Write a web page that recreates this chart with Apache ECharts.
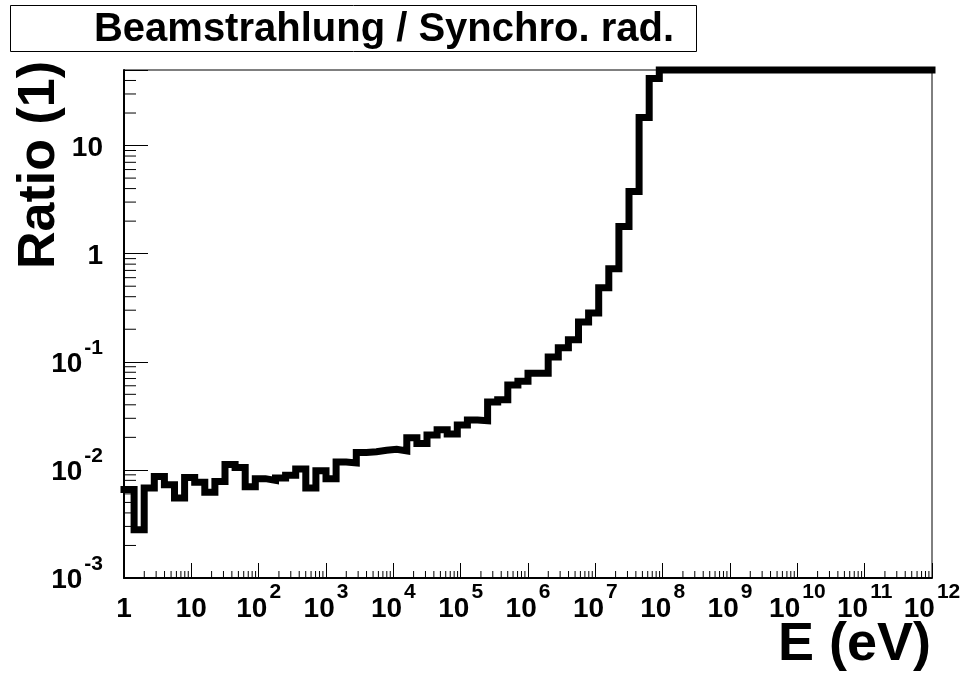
<!DOCTYPE html>
<html>
<head>
<meta charset="utf-8">
<title>Beamstrahlung / Synchro. rad.</title>
<script src="https://cdn.jsdelivr.net/npm/echarts@6/dist/echarts.min.js"></script>
<style>
    html, body { margin: 0; padding: 0; background: #fff; }
    #main { width: 967px; height: 694px; }
</style>
</head>
<body>
<div id="main"></div>
<script>
// binning of the histogram: 80 equal bins in log10(E), E from 1 to 1e12 eV
var nBins = 80;
var logEMin = 0;
var logEMax = 12;

// bin contents (ratio), left to right.
// from ~1e8 eV on the histogram sits on the frame top (50)
var ratio = [
    0.0066, 0.0028, 0.0068, 0.0087, 0.0073, 0.0055, 0.0085, 0.0077, 0.0062, 0.0078,
    0.0112, 0.0105, 0.0070, 0.0083, 0.0080, 0.0084, 0.0089, 0.0102, 0.0068, 0.0098,
    0.0083, 0.0118, 0.0116, 0.0145, 0.0147, 0.0152, 0.0155, 0.0150, 0.0198, 0.0175,
    0.0210, 0.0235, 0.0215, 0.0260, 0.0290, 0.0285, 0.0425, 0.0445, 0.0610, 0.0660,
    0.0785, 0.0785, 0.111, 0.135, 0.160, 0.233, 0.283, 0.484, 0.726, 1.78,
    3.75, 18.2, 41.7, 50, 50, 50, 50, 50, 50, 50,
    50, 50, 50, 50, 50, 50, 50, 50, 50, 50,
    50, 50, 50, 50, 50, 50, 50, 50, 50, 50
];

// axis ranges
var xMin = 1, xMax = 1e12;
var yMin = 1e-3, yMax = 50;

// mantissas of the small ticks in each decade
var minorMantissa = [2, 3, 4, 5, 6, 7, 8, 9];
var xDecades = [0, 1, 2, 3, 4, 5, 6, 7, 8, 9, 10, 11];
var yDecades = [-3, -2, -1, 0, 1];

var fontFamily = '"Liberation Sans", Arial, Helvetica, sans-serif';

// step points: low edge of each bin, plus the last high edge
var histData = [];
for (var i = 0; i < nBins; i++) {
    histData.push([Math.pow(10, logEMin + i * (logEMax - logEMin) / nBins), ratio[i]]);
}
histData.push([xMax, ratio[nBins - 1]]);

var minorX = [], minorY = [];
xDecades.forEach(function (d) {
    minorMantissa.forEach(function (m) { minorX.push([m * Math.pow(10, d), yMin]); });
});
yDecades.forEach(function (d) {
    minorMantissa.forEach(function (m) {
        var v = m * Math.pow(10, d);
        if (v < yMax) minorY.push([xMin, v]);
    });
});

// labels 1, 10, 10^n (only on whole decades)
function powLabel(v) {
    var e = Math.round(Math.log10(v));
    if (Math.abs(Math.log10(v) - e) > 1e-6) return '';
    if (e === 0) return '{b|1}';
    if (e === 1) return '{b|10}';
    return '{b|10}{s|' + e + '}';
}

var labelRich = {
    b: { fontSize: 28, fontWeight: 'bold', fontFamily: fontFamily, color: '#000', lineHeight: 60 },
    s: { fontSize: 21, fontWeight: 'bold', fontFamily: fontFamily, color: '#000', lineHeight: 21, verticalAlign: 'top', padding: [3, 0, 0, 2] }
};

function tickSeries(data, dir, len) {
    return {
        type: 'custom',
        silent: true,
        clip: false,
        data: data,
        renderItem: function (params, api) {
            var p = api.coord([api.value(0), api.value(1)]);
            var shape = dir === 'x'
                ? { x1: p[0], y1: p[1], x2: p[0], y2: p[1] - len }
                : { x1: p[0], y1: p[1], x2: p[0] + len, y2: p[1] };
            return { type: 'line', shape: shape, style: { stroke: '#000', lineWidth: 1 } };
        }
    };
}

var myChart = echarts.init(document.getElementById('main'));

var option = {
    backgroundColor: '#fff',
    animation: false,
    grid: {
        left: 124, right: 35, top: 70, bottom: 116,
        show: true, borderColor: '#000', borderWidth: 1,
        containLabel: false, outerBoundsMode: 'none'
    },
    xAxis: {
        type: 'log',
        logBase: 10,
        min: xMin,
        max: xMax,
        interval: 1,
        axisLine: { show: true, lineStyle: { color: '#000', width: 2 } },
        axisTick: { show: true, inside: true, length: 15, lineStyle: { color: '#000', width: 1 } },
        splitLine: { show: false },
        axisLabel: {
            margin: 1,
            formatter: powLabel,
            rich: labelRich
        }
    },
    yAxis: {
        type: 'log',
        logBase: 10,
        min: yMin,
        max: yMax,
        interval: 1,
        axisLine: { show: true, lineStyle: { color: '#000', width: 2 } },
        axisTick: { show: true, inside: true, length: 24, lineStyle: { color: '#000', width: 1 } },
        splitLine: { show: false },
        axisLabel: {
            margin: 21,
            padding: [5, 0, 0, 0],
            formatter: powLabel,
            rich: labelRich
        }
    },
    series: [
        {
            type: 'line',
            step: 'end',
            data: histData,
            symbol: 'none',
            clip: false,
            lineStyle: { color: '#000', width: 7, join: 'miter', cap: 'square' }
        },
        tickSeries(minorX, 'x', 7),
        tickSeries(minorY, 'y', 12)
    ],
    graphic: [
        {
            type: 'rect',
            shape: { x: 10.5, y: 5.5, width: 686, height: 46 },
            style: { fill: '#fff', stroke: '#000', lineWidth: 1 }
        },
        {
            type: 'text',
            x: 384, y: 30,
            style: {
                text: 'Beamstrahlung / Synchro. rad.',
                font: 'bold 40px ' + fontFamily,
                fill: '#000',
                align: 'center',
                verticalAlign: 'middle'
            }
        },
        {
            type: 'text',
            x: 40, y: 165,
            rotation: Math.PI / 2,
            style: {
                text: 'Ratio (1)',
                font: 'bold 52px ' + fontFamily,
                fill: '#000',
                align: 'center',
                verticalAlign: 'middle'
            }
        },
        {
            type: 'text',
            x: 931, y: 645,
            style: {
                text: 'E (eV)',
                font: 'bold 54px ' + fontFamily,
                fill: '#000',
                align: 'right',
                verticalAlign: 'middle'
            }
        }
    ]
};

myChart.setOption(option);
</script>
</body>
</html>
